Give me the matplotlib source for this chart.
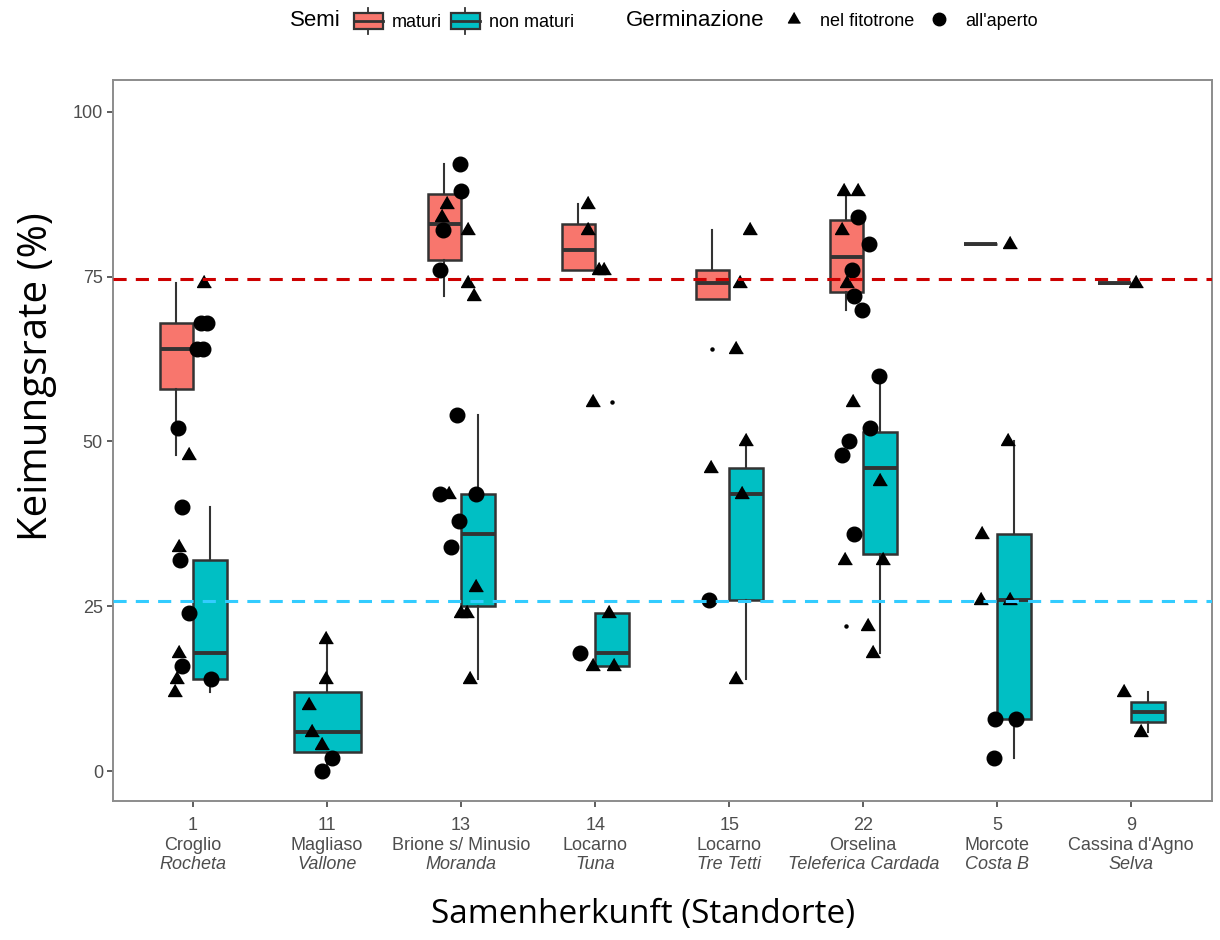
import numpy as np
import matplotlib
matplotlib.use('Agg')
import matplotlib.pyplot as plt
from matplotlib.legend_handler import HandlerBase
from matplotlib.patches import Patch, Rectangle
from matplotlib.lines import Line2D

plt.rcParams['font.family'] = ['Liberation Sans', 'DejaVu Sans']

# sites on the x axis
sites = ['1', '11', '13', '14', '15', '22', '5', '9']
places = ['Croglio', 'Magliaso', 'Brione s/ Minusio', 'Locarno', 'Locarno',
          'Orselina', 'Morcote', "Cassina d'Agno"]
spots = ['Rocheta', 'Vallone', 'Moranda', 'Tuna', 'Tre Tetti',
         'Teleferica Cardada', 'Costa B', 'Selva']

# box stats, semi maturi
mat_sites = ['1', '13', '14', '15', '22', '5', '9']
mat_q1 = [58, 77.5, 76, 71.6, 72.6, 80, 74]
mat_med = [64, 83, 79, 74, 78, 80, 74]
mat_q3 = [68, 87.5, 83, 76, 83.6, 80, 74]
mat_lo = [48, 72, 76, 71.6, 70, 80, 74]
mat_hi = [74, 92, 86, 82, 88, 80, 74]
mat_out = [[], [], [], [64], [22], [], []]

# box stats, semi non maturi
non_sites = ['1', '11', '13', '14', '15', '22', '5', '9']
non_q1 = [14, 3, 25, 16, 26, 33, 8, 7.5]
non_med = [18, 6, 36, 18, 42, 46, 26, 9]
non_q3 = [32, 12, 42, 24, 46, 51.5, 36, 10.5]
non_lo = [12, 0, 14, 16, 14, 18, 2, 6]
non_hi = [40, 20, 54, 24, 50, 60, 50, 12]
non_out = [[], [], [], [56], [], [], [], []]

# single measurements (f = nel fitotrone, a = all'aperto) and their jitter
pt_site = (['1'] * 16 + ['11'] * 7 + ['13'] * 19 + ['14'] * 9 + ['15'] * 8
           + ['22'] * 20 + ['5'] * 8 + ['9'] * 3)
pt_val = [74, 68, 68, 64, 64, 52, 48, 40, 34, 32, 24, 18, 16, 14, 12, 14,
          20, 14, 10, 6, 4, 2, 0,
          92, 88, 86, 84, 82, 82, 76, 74, 72, 54, 42, 42, 42, 38, 34, 28, 24, 24, 14,
          86, 82, 76, 76, 56, 24, 18, 16, 16,
          82, 74, 64, 50, 46, 42, 26, 14,
          88, 88, 84, 82, 80, 76, 74, 72, 70, 60, 56, 52, 50, 48, 44, 36, 32, 32, 22, 18,
          80, 50, 36, 26, 26, 8, 8, 2,
          74, 12, 6]
pt_germ = list('faaaaafafaafaffa' + 'fffffaa' + 'aaffafaff' + 'aafaaaffff'
               + 'ffffffaff' + 'ffffffaf' + 'ffafaafaa' + 'afaaafaffff'
               + 'fffffaaa' + 'fff')
pt_jit = [0.08, 0.058, 0.102, 0.028, 0.072, -0.114, -0.032, -0.084, -0.108, -0.099,
          -0.03, -0.101, -0.079, -0.116, -0.136, 0.132,
          -0.01, -0.01, -0.137, -0.11, -0.035, 0.034, -0.035,
          -0.011, -0.004, -0.103, -0.14, -0.136, 0.051, -0.158, 0.051, 0.096,
          -0.028, -0.158, -0.091, 0.108, -0.016, -0.078, 0.108, -0.004, 0.041, 0.063,
          -0.054, -0.054, 0.028, 0.065, -0.017, 0.102, -0.114, -0.017, 0.139,
          0.154, 0.084, 0.054, 0.129, -0.134, 0.092, -0.152, 0.054,
          -0.145, -0.041, -0.041, -0.157, 0.041, -0.083, -0.124, -0.066, -0.008,
          0.116, -0.075, 0.054, -0.108, -0.157, 0.123, -0.066, -0.133, 0.148, 0.037, 0.074,
          0.092, 0.078, -0.113, -0.121, 0.098, -0.019, 0.142, -0.027,
          0.037, -0.057, 0.072]

# reference lines (mean germination)
mean_mat = 74.6
mean_non = 25.8

col_mat = '#F8766D'
col_non = '#00BFC4'
edge = '#333333'
tri = [(0, 1), (-0.866, -0.5), (0.866, -0.5)]

fig = plt.figure(figsize=(12.2, 9.4), dpi=100)
ax = fig.add_axes([0.0923, 0.1479, 0.9009, 0.7670])

pos = {s: i + 1 for i, s in enumerate(sites)}


def draw_boxes(bsites, q1, med, q3, lo, hi, out, other, color, side):
    stats, xs, ws = [], [], []
    for j, s in enumerate(bsites):
        stats.append(dict(q1=q1[j], med=med[j], q3=q3[j], whislo=lo[j],
                          whishi=hi[j], fliers=out[j]))
        if s in other:
            xs.append(pos[s] + side * 0.125)
            ws.append(0.25)
        else:
            xs.append(pos[s])
            ws.append(0.5)
    ax.bxp(stats, positions=xs, widths=ws, patch_artist=True, showcaps=False,
           boxprops=dict(facecolor=color, edgecolor=edge, linewidth=1.8),
           whiskerprops=dict(color=edge, linewidth=1.5),
           medianprops=dict(color=edge, linewidth=2.8, solid_capstyle='butt'),
           flierprops=dict(marker='o', markersize=2.2, markerfacecolor='black',
                           markeredgecolor='black'),
           manage_ticks=False)


draw_boxes(mat_sites, mat_q1, mat_med, mat_q3, mat_lo, mat_hi, mat_out,
           non_sites, col_mat, -1)
draw_boxes(non_sites, non_q1, non_med, non_q3, non_lo, non_hi, non_out,
           mat_sites, col_non, 1)

x = np.array([pos[s] for s in pt_site]) + np.array(pt_jit)
y = np.array(pt_val)
g = np.array(pt_germ)
ax.plot(x[g == 'f'], y[g == 'f'], linestyle='none', marker=tri, markersize=11.5,
        color='black', zorder=4)
ax.plot(x[g == 'a'], y[g == 'a'], linestyle='none', marker='o', markersize=10.5,
        color='black', zorder=4)

ax.axhline(mean_mat, color='#CC0000', lw=2.2, linestyle=(0, (4.3, 3)), zorder=5)
ax.axhline(mean_non, color='#33CCFF', lw=2.2, linestyle=(0, (4.3, 3)), zorder=5)

ax.set_xlim(0.4, 8.6)
ax.set_ylim(-4.5, 104.8)
ax.set_yticks([0, 25, 50, 75, 100])
ax.set_xticks(range(1, len(sites) + 1))
ax.set_xticklabels([s + '\n' + p for s, p in zip(sites, places)])
ax.tick_params(axis='both', labelsize=13, labelcolor='#4D4D4D', color='#333333',
               length=4, width=1.1, pad=3)
ax.tick_params(axis='x', pad=7.5)
# italic third line of the x labels
for s, sp in zip(sites, spots):
    ax.annotate(sp, xy=(pos[s], 0), xycoords=('data', 'axes fraction'),
                xytext=(0, -49), textcoords='offset points', ha='center',
                va='baseline', fontsize=13, fontstyle='italic', color='#4D4D4D')
for sp_ in ax.spines.values():
    sp_.set_color('#8C8C8C')
    sp_.set_linewidth(1.4)

fig.text(643 / 1220, 1 - 915 / 940, 'Samenherkunft (Standorte)', ha='center',
         va='center', fontsize=24, family='Open Sans')
fig.text(37 / 1220, 1 - 377 / 940, 'Keimungsrate (%)', ha='center', va='center',
         rotation=90, fontsize=29, family='Open Sans')


class BoxKey(HandlerBase):
    def create_artists(self, legend, orig_handle, xdescent, ydescent, width,
                       height, fontsize, trans):
        cx = -xdescent + width / 2
        y0 = -ydescent
        bw = width
        box = Rectangle((cx - bw / 2, y0 + 0.19 * height), bw, 0.63 * height,
                        facecolor=orig_handle.get_facecolor(), edgecolor=edge,
                        lw=1.6, transform=trans)
        med = Line2D([cx - bw / 2, cx + bw / 2], [y0 + 0.505 * height] * 2,
                     color=edge, lw=2.0, transform=trans)
        wl = Line2D([cx, cx], [y0, y0 + 0.19 * height], color=edge, lw=1.3,
                    transform=trans)
        wu = Line2D([cx, cx], [y0 + 0.82 * height, y0 + height], color=edge,
                    lw=1.3, transform=trans)
        return [wl, wu, box, med]


ly = 1 - 21 / 940
fig.text(290 / 1220, ly, 'Semi', ha='left', va='center', fontsize=16)
fig.text(626 / 1220, ly, 'Germinazione', ha='left', va='center', fontsize=16)

semi_h = [Patch(facecolor=col_mat), Patch(facecolor=col_non)]
fig.legend(semi_h, ['maturi', 'non maturi'], handler_map={Patch: BoxKey()},
           loc='center left', bbox_to_anchor=(354 / 1220, ly), ncol=2,
           frameon=False, fontsize=13, handlelength=1.6, handleheight=1.78,
           handletextpad=0.5, columnspacing=0.48, borderpad=0, borderaxespad=0)

germ_h = [Line2D([], [], linestyle='none', marker=tri, markersize=10, color='black'),
          Line2D([], [], linestyle='none', marker='o', markersize=9, color='black')]
fig.legend(germ_h, ['nel fitotrone', "all'aperto"], loc='center left',
           bbox_to_anchor=(785 / 1220, ly), ncol=2, frameon=False, fontsize=13,
           handlelength=1.0, handletextpad=0.95, columnspacing=0.85, borderpad=0,
           borderaxespad=0)

fig.savefig('out.png', dpi=100)
